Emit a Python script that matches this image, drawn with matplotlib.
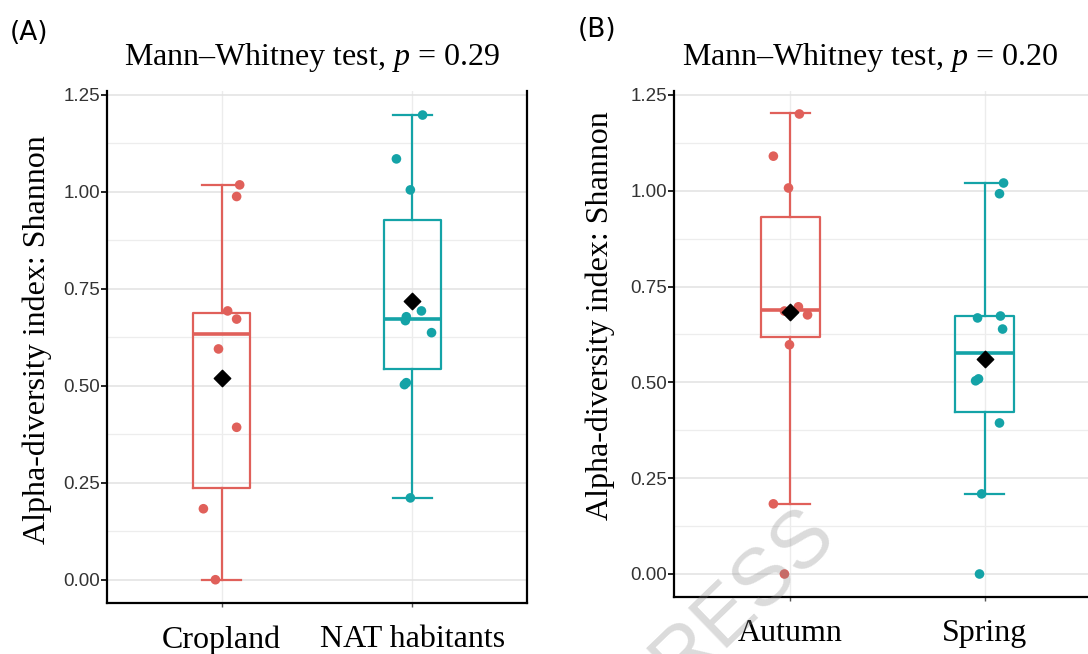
import numpy as np
import matplotlib.pyplot as plt
from matplotlib.ticker import MultipleLocator

plt.rcParams['mathtext.fontset'] = 'custom'
plt.rcParams['mathtext.rm'] = 'Liberation Serif'
plt.rcParams['mathtext.it'] = 'Liberation Serif:italic'

red = '#E0605A'
teal = '#14A3A7'

# panel A: land use
groups_a = ['Cropland', 'NAT habitants']
title_a = 'Mann–Whitney test, $p$ = 0.29'
crop_vals = [1.018, 0.988, 0.693, 0.672, 0.595, 0.393, 0.183, 0.000]
crop_jit = [0.095, 0.079, 0.032, 0.079, -0.016, 0.079, -0.095, -0.032]
nat_vals = [1.198, 1.085, 1.005, 0.693, 0.678, 0.668, 0.637, 0.508, 0.503, 0.211]
nat_jit = [0.053, -0.084, -0.011, 0.047, -0.032, -0.037, 0.100, -0.032, -0.042, -0.011]
# whislo, q1, median, q3, whishi, mean
crop_box = [0.000, 0.237, 0.634, 0.688, 1.018, 0.520]
nat_box = [0.211, 0.544, 0.673, 0.928, 1.198, 0.719]

# panel B: season
groups_b = ['Autumn', 'Spring']
title_b = 'Mann–Whitney test, $p$ = 0.20'
aut_vals = [1.200, 1.090, 1.007, 0.697, 0.686, 0.676, 0.598, 0.183, 0.000]
aut_jit = [0.046, -0.088, -0.010, 0.041, -0.031, 0.088, -0.005, -0.088, -0.031]
spr_vals = [1.020, 0.992, 0.673, 0.668, 0.639, 0.509, 0.504, 0.394, 0.209, 0.000]
spr_jit = [0.098, 0.077, 0.082, -0.036, 0.093, -0.031, -0.046, 0.077, -0.015, -0.026]
aut_box = [0.183, 0.618, 0.689, 0.932, 1.203, 0.684]
spr_box = [0.209, 0.423, 0.577, 0.673, 1.020, 0.561]

ylabel = 'Alpha-diversity index: Shannon'


def stats(b, name):
    return dict(whislo=b[0], q1=b[1], med=b[2], q3=b[3], whishi=b[4], mean=b[5], fliers=[], label=name)


def panel(ax, groups, boxes, vals, jits, title, title_x, ylab_xy):
    ax.set_xlim(0.4, 2.6)
    ax.set_ylim(-0.06, 1.26)
    ax.yaxis.set_major_locator(MultipleLocator(0.25))
    ax.yaxis.set_minor_locator(MultipleLocator(0.125))
    ax.grid(True, which='major', axis='y', color='#e2e2e2', lw=1.1, zorder=0)
    ax.grid(True, which='minor', axis='y', color='#ededed', lw=0.9, zorder=0)
    ax.grid(True, which='major', axis='x', color='#ececec', lw=1.0, zorder=0)
    ax.tick_params(axis='y', which='minor', length=0)
    ax.set_axisbelow(True)
    cols = [red, teal]
    for i in range(2):
        st = [stats(boxes[i], groups[i])]
        ax.bxp(st, positions=[i + 1], widths=0.3, capwidths=0.2, showfliers=False,
               showmeans=False, patch_artist=False,
               boxprops=dict(color=cols[i], lw=1.6),
               whiskerprops=dict(color=cols[i], lw=1.6),
               capprops=dict(color=cols[i], lw=1.6),
               medianprops=dict(color=cols[i], lw=2.6))
        x = i + 1 + np.array(jits[i])
        ax.scatter(x, vals[i], s=48, color=cols[i], edgecolor='none', zorder=4)
        ax.scatter([i + 1], [boxes[i][5]], marker='D', s=70, color='black', zorder=5)
    ax.set_xticks([1, 2])
    ax.set_xticklabels(groups, fontsize=23, family='Liberation Serif')
    ax.tick_params(axis='x', length=3, width=1, pad=13, color='#555555')
    ax.tick_params(axis='y', length=4, width=1.2, pad=1, labelsize=13.5, labelcolor='#333333')
    for t in ax.get_yticklabels():
        t.set_family('Liberation Sans')
    ax.set_title(title, fontsize=23, family='Liberation Serif', x=title_x, pad=19)
    ax.set_ylabel(ylabel, fontsize=23, family='Liberation Serif')
    ax.yaxis.set_label_coords(*ylab_xy)
    ax.spines['top'].set_visible(False)
    for s in ['left', 'bottom', 'right']:
        ax.spines[s].set_linewidth(1.6)
        ax.spines[s].set_color('black')


fig = plt.figure(figsize=(10.88, 6.54), dpi=100)
W, H = 1088, 654
ax1 = fig.add_axes([107 / W, 1 - 603 / H, 420 / W, 512 / H])
ax2 = fig.add_axes([674 / W, 1 - 597 / H, 427 / W, 506 / H])

panel(ax1, groups_a, [crop_box, nat_box], [crop_vals, nat_vals], [crop_jit, nat_jit],
      title_a, 0.488, (-0.131, 0.514))
panel(ax2, groups_b, [aut_box, spr_box], [aut_vals, spr_vals], [aut_jit, spr_jit],
      title_b, 0.459, (-0.138, 0.557))

fig.text(10 / W, 1 - 33 / H, '(A)', fontsize=19, family='DejaVu Sans', va='center', ha='left')
fig.text(578 / W, 1 - 30 / H, '(B)', fontsize=19, family='DejaVu Sans', va='center', ha='left')

# watermark, cut off by the bottom edge as in the source image
fig.text(724 / W, 1 - 615 / H, 'PRESS', fontsize=58, family='Liberation Sans', rotation=44,
         color='#888888', alpha=0.3, ha='center', va='center')

fig.savefig('out.png', dpi=100)
